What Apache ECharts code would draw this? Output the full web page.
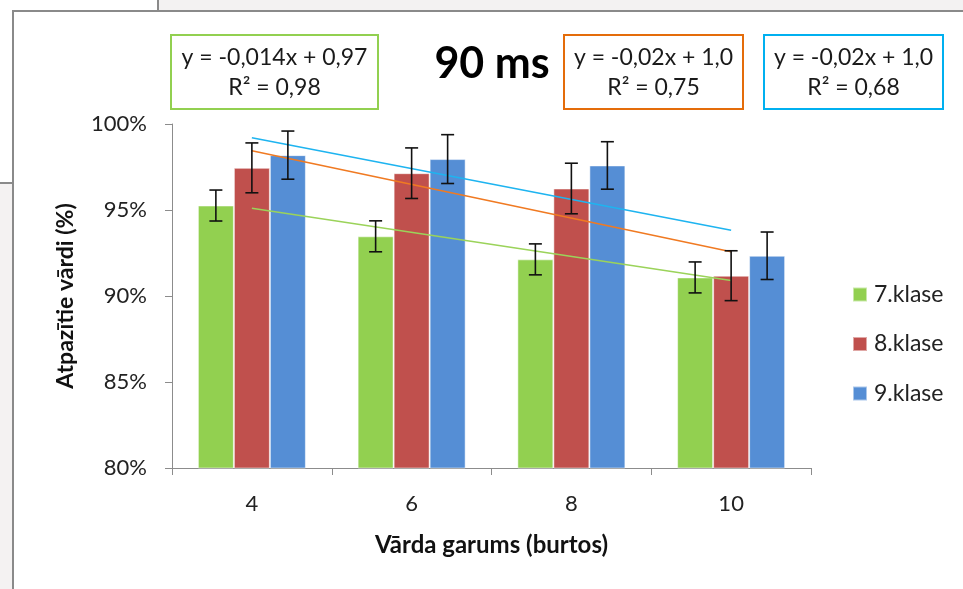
<!DOCTYPE html>
<html>
<head>
<meta charset="utf-8">
<script src="https://cdn.jsdelivr.net/npm/echarts@6/dist/echarts.min.js"></script>
<style>
html,body{margin:0;padding:0;background:#fff;}
#chart{width:963px;height:589px;}
</style>
</head>
<body>
<div id="chart"></div>
<script>
// ---- data ----
const categories = ['4', '6', '8', '10'];
const seriesNames = ['7.klase', '8.klase', '9.klase'];
const values7 = [95.26, 93.47, 92.13, 91.08];
const values8 = [97.45, 97.14, 96.25, 91.18];
const values9 = [98.19, 97.96, 97.59, 92.34];
const err7 = [0.90, 0.90, 0.90, 0.90];
const err8 = [1.45, 1.47, 1.47, 1.45];
const err9 = [1.40, 1.42, 1.38, 1.38];
// trend lines (endpoints at first and last category)
const trend7 = [95.10, null, null, 90.90];
const trend8 = [98.45, null, null, 92.57];
const trend9 = [99.20, null, null, 93.82];
const yTicks = [80, 85, 90, 95, 100];
const titleText = '90 ms';
const eqTexts = [
  ['y = -0,014x + 0,97', 'R² = 0,98'],
  ['y = -0,02x + 1,0', 'R² = 0,75'],
  ['y = -0,02x + 1,0', 'R² = 0,68']
];

const FONT = 'Lato, "Open Sans", sans-serif';
const barColors = ['#92D050', '#C0504D', '#558ED5'];
const trendColors = ['#9BD35A', '#F07A22', '#1EB4F0'];
const boxColors = ['#92D050', '#E46C0A', '#00B0F0'];
const BAR_W = 36;

const chart = echarts.init(document.getElementById('chart'));

function errSeries(vals, errs, k) {
  return {
    type: 'custom',
    name: 'err' + k,
    z: 5,
    data: vals.map((v, i) => [i, v, errs[i]]),
    renderItem: function (params, api) {
      const x = api.value(0), y = api.value(1), e = api.value(2);
      const hi = api.coord([x, y + e]);
      const lo = api.coord([x, y - e]);
      const cx = hi[0] + (k - 1) * BAR_W;
      const cap = 6.5;
      const st = { stroke: '#111', lineWidth: 1.6 };
      return {
        type: 'group',
        children: [
          { type: 'line', shape: { x1: cx, y1: hi[1], x2: cx, y2: lo[1] }, style: st },
          { type: 'line', shape: { x1: cx - cap, y1: hi[1], x2: cx + cap, y2: hi[1] }, style: st },
          { type: 'line', shape: { x1: cx - cap, y1: lo[1], x2: cx + cap, y2: lo[1] }, style: st }
        ]
      };
    }
  };
}

function trendSeries(data, k) {
  return {
    type: 'line',
    name: 'trend' + k,
    data: data,
    connectNulls: true,
    symbol: 'none',
    z: 4,
    silent: true,
    lineStyle: { color: trendColors[k], width: 1.6 },
    animation: false
  };
}

const barData = [values7, values8, values9];

function eqBox(x, y, w, h, k) {
  return {
    type: 'group',
    children: [
      { type: 'rect', shape: { x: x, y: y, width: w, height: h },
        style: { fill: '#fff', stroke: boxColors[k], lineWidth: 2 } },
      { type: 'text', style: { text: eqTexts[k][0], x: x + w / 2, y: y + 23, align: 'center', verticalAlign: 'middle',
        font: 'normal 23px ' + FONT, fill: '#1a1a1a' } },
      { type: 'text', style: { text: eqTexts[k][1], x: x + w / 2, y: y + 53, align: 'center', verticalAlign: 'middle',
        font: 'normal 23px ' + FONT, fill: '#1a1a1a' } }
    ]
  };
}

const option = {
  animation: false,
  backgroundColor: '#fff',
  textStyle: { fontFamily: FONT },
  grid: { left: 172, top: 124, width: 639, height: 344, containLabel: false },
  legend: {
    orient: 'vertical',
    left: 852,
    top: 283,
    padding: 0,
    data: seriesNames,
    icon: 'rect',
    itemWidth: 14,
    itemHeight: 14,
    itemGap: 26.5,
    textStyle: { fontSize: 23, color: '#222', fontFamily: FONT, lineHeight: 22, padding: [0, 0, 0, 2] }
  },
  xAxis: {
    type: 'category',
    data: categories,
    name: 'Vārda garums (burtos)',
    nameLocation: 'middle',
    nameGap: 65,
    nameTextStyle: { fontSize: 24, fontWeight: 'bold', color: '#111', fontFamily: FONT },
    axisLine: { lineStyle: { color: '#8c8c8c', width: 1 } },
    axisTick: { show: true, length: 7, lineStyle: { color: '#8c8c8c' } },
    axisLabel: { fontSize: 22, color: '#222', margin: 25, fontFamily: FONT },
    splitLine: { show: false }
  },
  yAxis: {
    type: 'value',
    min: yTicks[0],
    max: yTicks[yTicks.length - 1],
    interval: 5,
    name: 'Atpazītie vārdi (%)',
    nameLocation: 'middle',
    nameRotate: 90,
    nameGap: 95,
    nameTextStyle: { fontSize: 23, fontWeight: 'bold', color: '#111', fontFamily: FONT },
    axisLine: { show: true, lineStyle: { color: '#8c8c8c', width: 1 } },
    axisTick: { show: true, length: 7, lineStyle: { color: '#8c8c8c' } },
    axisLabel: { fontSize: 22, color: '#222', margin: 25, formatter: '{value}%', fontFamily: FONT },
    splitLine: { show: false }
  },
  series: [
    ...seriesNames.map((n, k) => ({
      type: 'bar',
      name: n,
      data: barData[k],
      barWidth: BAR_W,
      barGap: '0%',
      z: 2,
      itemStyle: { color: barColors[k], borderColor: 'rgba(255,255,255,0.5)', borderWidth: 1 }
    })),
    trendSeries(trend7, 0),
    trendSeries(trend8, 1),
    trendSeries(trend9, 2),
    errSeries(values7, err7, 0),
    errSeries(values8, err8, 1),
    errSeries(values9, err9, 2)
  ],
  graphic: [
    // background decorations (slide frame)
    { type: 'rect', shape: { x: 158, y: 0, width: 805, height: 10 }, style: { fill: '#f3f2f2' }, silent: true },
    { type: 'rect', shape: { x: 0, y: 183, width: 13, height: 406 }, style: { fill: '#f4f2f2' }, silent: true },
    { type: 'line', shape: { x1: 158, y1: 0, x2: 158, y2: 10 }, style: { stroke: '#8a8a8a', lineWidth: 2 }, silent: true },
    { type: 'line', shape: { x1: 0, y1: 183, x2: 13, y2: 183 }, style: { stroke: '#8a8a8a', lineWidth: 2 }, silent: true },
    { type: 'line', shape: { x1: 12, y1: 11, x2: 963, y2: 11 }, style: { stroke: '#8a8a8a', lineWidth: 2 }, silent: true },
    { type: 'line', shape: { x1: 13, y1: 10, x2: 13, y2: 589 }, style: { stroke: '#8a8a8a', lineWidth: 2 }, silent: true },
    // title
    { type: 'text', style: { text: titleText, x: 492, y: 64, align: 'center', verticalAlign: 'middle',
      font: 'bold 43px ' + FONT, fill: '#000' } },
    eqBox(171, 35, 207, 74, 0),
    eqBox(564, 35, 179, 74, 1),
    eqBox(764, 35, 179, 74, 2)
  ]
};
chart.setOption(option);
</script>
</body>
</html>
